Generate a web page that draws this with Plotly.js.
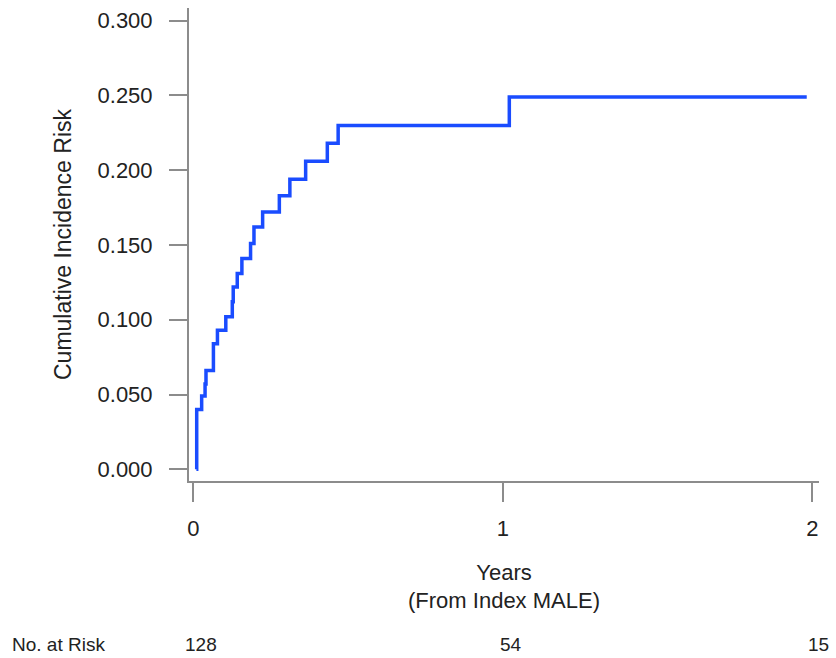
<!DOCTYPE html>
<html>
<head>
<meta charset="utf-8">
<script src="https://cdn.plot.ly/plotly-3.0.1.min.js"></script>
<style>html,body{margin:0;padding:0;background:#fff;}#chart{width:836px;height:658px;}</style>
</head>
<body>
<div id="chart"></div>
<script>
// Event times (years) and cumulative incidence risk
const times = [0.010, 0.011, 0.027, 0.038, 0.041, 0.065, 0.078, 0.105, 0.126, 0.129, 0.142, 0.157, 0.185, 0.196, 0.224, 0.278, 0.312, 0.363, 0.433, 0.468, 1.021, 1.982];
const risk  = [0.000, 0.040, 0.049, 0.057, 0.066, 0.084, 0.093, 0.102, 0.112, 0.122, 0.131, 0.141, 0.151, 0.162, 0.172, 0.183, 0.194, 0.206, 0.218, 0.230, 0.249, 0.249];
const yTicks = [0, 0.05, 0.10, 0.15, 0.20, 0.25, 0.30];
const xTicks = [0, 1, 2];
const riskTimes = [0, 1, 2];
const atRisk = [128, 54, 15];
const riskLabel = 'No. at Risk';

const axisColor = '#8c8c8c';
const txtFont = {family: 'Liberation Sans, Arial, sans-serif', size: 22, color: '#222'};
const tableFont = {family: 'Liberation Sans, Arial, sans-serif', size: 19, color: '#222'};

const trace = {
  x: times, y: risk, type: 'scatter', mode: 'lines',
  line: {shape: 'hv', color: '#1a4cff', width: 3.5},
  hoverinfo: 'x+y', showlegend: false
};

const riskRowY = -0.345;
const annotations = atRisk.map((n, i) => ({
  x: riskTimes[i], xref: 'x', y: riskRowY, yref: 'paper',
  yanchor: 'middle', xanchor: 'center', xshift: i === 2 ? 6 : 8,
  text: String(n), showarrow: false, font: tableFont, borderpad: 0
}));
annotations.push({
  x: 0, xref: 'paper', xanchor: 'left', xshift: -178,
  y: riskRowY, yref: 'paper', yanchor: 'middle',
  text: riskLabel, showarrow: false, font: tableFont, borderpad: 0
});

const layout = {
  width: 836, height: 658,
  margin: {l: 189, r: 17, t: 8, b: 177},
  paper_bgcolor: '#fff', plot_bgcolor: '#fff',
  font: txtFont,
  xaxis: {
    range: [-0.0139, 2.0216], tickvals: xTicks, ticktext: xTicks.map(String),
    showgrid: false, zeroline: false, showline: true, linecolor: axisColor, linewidth: 2,
    ticks: 'outside', ticklen: 19, tickwidth: 2, tickcolor: axisColor,
    ticklabelstandoff: 8,
    tickfont: txtFont,
    title: {text: 'Years<br>(From Index MALE)', font: txtFont, standoff: 24}
  },
  yaxis: {
    range: [-0.00782, 0.3085], tickvals: yTicks, tickformat: '.3f',
    showgrid: false, zeroline: false, showline: true, linecolor: axisColor, linewidth: 2,
    ticks: 'outside', ticklen: 18, tickwidth: 2, tickcolor: axisColor,
    ticklabelstandoff: 12,
    tickfont: txtFont,
    title: {text: 'Cumulative Incidence Risk', font: Object.assign({}, txtFont, {size: 23}), standoff: 19}
  },
  annotations: annotations
};

Plotly.newPlot('chart', [trace], layout, {displayModeBar: false, staticPlot: true});
</script>
</body>
</html>
